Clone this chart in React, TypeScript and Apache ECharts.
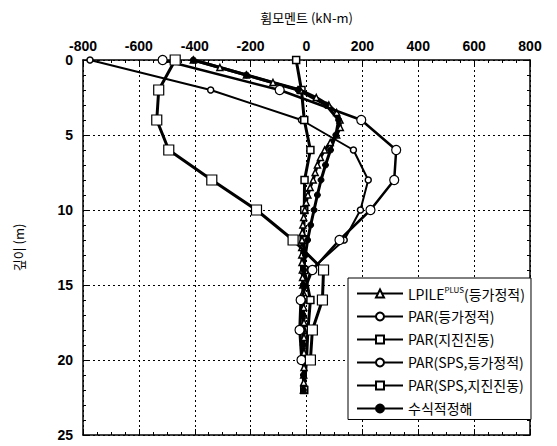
import React, { useEffect, useRef } from "react";
import * as echarts from "echarts";

// Depths (m) and bending moments (kN-m)
const lpileDepth = [0, 0.5, 1, 1.5, 2, 2.5, 3, 3.5, 4, 4.5, 5, 5.5, 6, 6.5, 7, 7.5, 8, 8.5, 9, 9.5, 10, 10.5, 11, 11.5, 12, 12.5, 13, 13.5, 14, 14.5, 15, 15.5, 16, 16.5, 17, 17.5, 18, 18.5, 19, 19.5, 20, 20.5, 21, 21.5, 22];
const lpileMoment = [-405, -310, -215, -120, -22, 35, 80, 108, 120, 121, 108, 85, 65, 50, 39, 31, 24, 13, 5, -1, -6, -10, -13, -15, -16, -17, -17, -16, -15, -14, -13, -12, -11, -10, -10, -9, -9, -9, -9, -9, -9, -9, -10, -10, -11];

const parEqDepth = [0, 2, 4, 6, 8, 10, 12, 14, 16, 18, 20];
const parEqMoment = [-775, -343, -18, 168, 221, 193, 135, 15, -18, -22, -15];

const parSeisDepth = [0, 2, 4, 6, 8, 10, 12, 14, 16, 18, 20, 22];
const parSeisMoment = [-37, -18, -8, 14, -7, -8, -10, -8, 14, 5, 0, -8];

const spsEqDepth = [0, 2, 4, 6, 8, 10, 12, 14, 16, 18, 20];
const spsEqMoment = [-515, -96, 196, 321, 314, 229, 118, 21, -21, -25, -18];

const spsSeisDepth = [0, 2, 4, 6, 8, 10, 12, 14, 16, 18, 20];
const spsSeisMoment = [-470, -529, -536, -493, -339, -179, -48, 61, 57, 21, 14];

const analyticDepth = [0, 1, 2, 3, 4, 5, 6, 7, 8, 9, 10, 11, 12, 13, 14, 15, 16, 17, 18, 19, 20, 21, 22];
const analyticMoment = [-405, -215, -30, 70, 115, 105, 86, 68, 52, 39, 27, 15, 4, -4, -10, -12, -13, -13, -12, -12, -11, -11, -11];

const seriesNames = [
  "LPILE(등가정적)",
  "PAR(등가정적)",
  "PAR(지진진동)",
  "PAR(SPS,등가정적)",
  "PAR(SPS,지진진동)",
  "수식적정해",
];

const zip = (m: number[], d: number[]) => m.map((v, i) => [v, d[i]]);

const KR = "'Noto Sans CJK KR', sans-serif";
const LAT = "'Liberation Sans', Arial, sans-serif";

export default function App() {
  const ref = useRef<HTMLDivElement>(null);
  useEffect(() => {
    if (!ref.current) return;
    const chart = echarts.init(ref.current, null, { renderer: "svg" });

    const tickCommon = {
      axisLine: { show: true, onZero: false, lineStyle: { color: "#000", width: 1.5 } },
      axisTick: { show: true, inside: true, length: 6, lineStyle: { color: "#000", width: 1 } },
    };

    const grid = { left: 83, right: 27, top: 60, bottom: 11 };

    chart.setOption({
      animation: false,
      backgroundColor: "#fff",
      grid,
      xAxis: [
        {
          type: "value",
          position: "top",
          min: -800,
          max: 800,
          interval: 200,
          name: "휨모멘트 (kN-m)",
          nameLocation: "middle",
          nameGap: 36,
          nameTextStyle: { fontFamily: KR, fontSize: 13, color: "#000" },
          ...tickCommon,
          minorTick: { show: true, splitNumber: 4, length: 3, lineStyle: { color: "#000" } },
          axisLabel: { color: "#000", fontFamily: LAT, fontWeight: "bold", fontSize: 14, margin: 7 },
          splitLine: { show: true, lineStyle: { color: "#000", type: [2, 3], width: 1 } },
        },
        {
          type: "value",
          position: "bottom",
          min: -800,
          max: 800,
          interval: 200,
          ...tickCommon,
          minorTick: { show: true, splitNumber: 4, length: 3, lineStyle: { color: "#000" } },
          axisLabel: { show: false },
          splitLine: { show: false },
        },
      ],
      yAxis: [
        {
          type: "value",
          position: "left",
          inverse: true,
          min: 0,
          max: 25,
          interval: 5,
          name: "깊이 (m)",
          nameLocation: "middle",
          nameGap: 58,
          nameRotate: 90,
          nameTextStyle: { fontFamily: KR, fontSize: 13, color: "#000" },
          ...tickCommon,
          minorTick: { show: true, splitNumber: 5, length: 3, lineStyle: { color: "#000" } },
          axisLabel: { color: "#000", fontFamily: LAT, fontWeight: "bold", fontSize: 14, margin: 10 },
          splitLine: { show: true, lineStyle: { color: "#000", type: [2, 3], width: 1 } },
        },
        {
          type: "value",
          position: "right",
          inverse: true,
          min: 0,
          max: 25,
          interval: 5,
          ...tickCommon,
          minorTick: { show: true, splitNumber: 5, length: 3, lineStyle: { color: "#000" } },
          axisLabel: { show: false },
          splitLine: { show: false },
        },
      ],
      legend: {
        orient: "vertical",
        left: 348,
        top: 278,
        itemWidth: 46,
        itemHeight: 10,
        itemGap: 9,
        padding: [7, 6, 4, 8],
        borderColor: "#000",
        borderWidth: 1,
        backgroundColor: "#fff",
        data: seriesNames,
        formatter: (name: string) =>
          name.startsWith("LPILE") ? "{a|LPILE}{sup|PLUS}{a|(등가정적)}" : "{a|" + name + "}",
        textStyle: {
          color: "#000",
          fontFamily: KR,
          fontSize: 14,
          rich: {
            a: { fontFamily: KR, fontSize: 14, lineHeight: 17, color: "#000" },
            sup: { fontFamily: KR, fontSize: 8, lineHeight: 8, verticalAlign: "top", color: "#000" },
          },
        },
      },
      series: [
        {
          name: seriesNames[0],
          type: "line",
          data: zip(lpileMoment, lpileDepth),
          symbol: "triangle",
          symbolSize: 6,
          lineStyle: { color: "#000", width: 3 },
          itemStyle: { color: "#fff", borderColor: "#000", borderWidth: 1.5 },
          z: 3,
        },
        {
          name: seriesNames[1],
          type: "line",
          data: zip(parEqMoment, parEqDepth),
          symbol: "circle",
          symbolSize: 6,
          lineStyle: { color: "#000", width: 2 },
          itemStyle: { color: "#fff", borderColor: "#000", borderWidth: 1.5 },
          z: 2,
        },
        {
          name: seriesNames[2],
          type: "line",
          data: zip(parSeisMoment, parSeisDepth),
          symbol: "rect",
          symbolSize: 7,
          lineStyle: { color: "#000", width: 3 },
          itemStyle: { color: "#fff", borderColor: "#000", borderWidth: 1.5 },
          z: 2,
        },
        {
          name: seriesNames[3],
          type: "line",
          data: zip(spsEqMoment, spsEqDepth),
          symbol: "circle",
          symbolSize: 9,
          lineStyle: { color: "#000", width: 2.5 },
          itemStyle: { color: "#fff", borderColor: "#000", borderWidth: 1.2 },
          z: 4,
        },
        {
          name: seriesNames[4],
          type: "line",
          data: zip(spsSeisMoment, spsSeisDepth),
          symbol: "rect",
          symbolSize: 10,
          lineStyle: { color: "#000", width: 3 },
          itemStyle: { color: "#fff", borderColor: "#000", borderWidth: 1.2 },
          z: 4,
        },
        {
          name: seriesNames[5],
          type: "line",
          data: zip(analyticMoment, analyticDepth),
          symbol: "circle",
          symbolSize: 6,
          lineStyle: { color: "#000", width: 3 },
          itemStyle: { color: "#000", borderColor: "#000", borderWidth: 1 },
          z: 3,
        },
      ],
    });
    return () => chart.dispose();
  }, []);

  return (
    <div
      ref={ref}
      style={{ position: "absolute", left: 0, top: 0, width: 557, height: 446, background: "#fff" }}
    />
  );
}
